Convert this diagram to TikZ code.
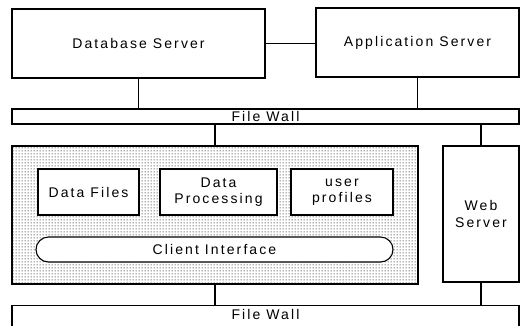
\documentclass[tikz,border=0pt]{standalone}
\usepackage{fontspec}
\setmainfont{Liberation Sans}[LetterSpace=15]
\usetikzlibrary{patterns.meta}
\tikzdeclarepattern{
  name=smalldots,
  type=uncolored,
  bounding box={(0pt,0pt) and (3pt,3pt)},
  tile size={(3pt,3pt)},
  code={\fill (1.5pt,1.5pt) circle (0.7pt);}
}
\begin{document}
\begin{tikzpicture}[x=1pt,y=-1pt,
  box/.style={draw=black, line width=1.1pt, fill=white, inner sep=0pt, align=center,
    font=\fontsize{14}{16.5}\selectfont},
  conn/.style={draw=black, line width=1.1pt}
]
\useasboundingbox (0,0) rectangle (521,325);
\node[box, minimum width=253, minimum height=69] (db) at (138.5,43.5) {Database Server};
\node[box, minimum width=203, minimum height=69] (app) at (417.5,42.5) {Application Server};
\node[box, minimum width=507, minimum height=15] (fw1) at (265.5,116.5) {File Wall};
\node[box, pattern={smalldots}, pattern color=black!80, minimum width=406, minimum height=138] (cs) at (215,215) {};
\node[box, minimum width=76, minimum height=136] (web) at (481,214) {Web\\Server};
\node[box, minimum width=101, minimum height=46] (df) at (88.5,192) {Data Files};
\node[box, minimum width=117, minimum height=46] (dp) at (218.5,192) {Data\\Processing};
\node[box, minimum width=102, minimum height=46] (up) at (342,192) {user\\profiles};
\node[box, rounded corners=12.5pt, minimum width=357, minimum height=25] (ci) at (214.5,249.5) {Client Interface};
\node[box, anchor=north, minimum width=507, text height=13.5pt, text depth=30pt] (fw2) at (265.5,305) {File Wall};
\draw[conn] (db.east) -- (db.east -| app.west);
\draw[conn] (db.south) -- (db.south |- fw1.north);
\draw[conn] (app.south) -- (app.south |- fw1.north);
\draw[conn] (cs.north) -- (cs.north |- fw1.south);
\draw[conn] (web.north) -- (web.north |- fw1.south);
\draw[conn] (cs.south) -- (cs.south |- fw2.north);
\draw[conn] (web.south) -- (web.south |- fw2.north);
\end{tikzpicture}
\end{document}
